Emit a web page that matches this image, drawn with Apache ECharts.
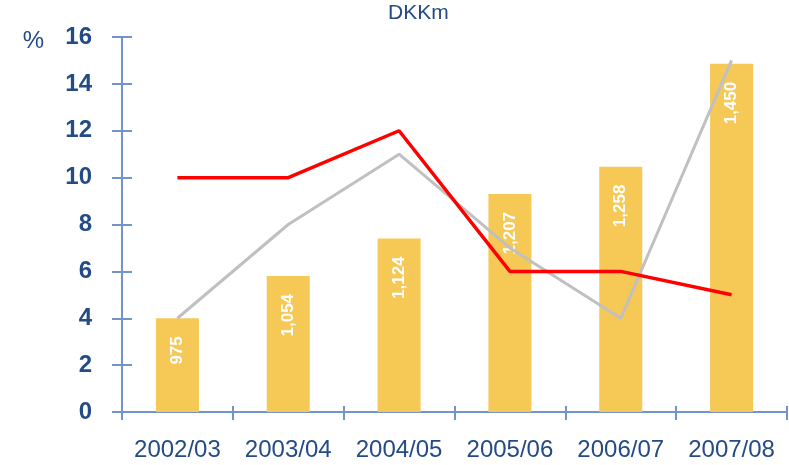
<!DOCTYPE html>
<html>
<head>
<meta charset="utf-8">
<style>
html, body { margin: 0; padding: 0; background: #fff; }
#main { width: 789px; height: 465px; }
</style>
<script src="https://cdn.jsdelivr.net/npm/echarts@6/dist/echarts.min.js"></script>
</head>
<body>
<div id="main"></div>
<script>
var chart = echarts.init(document.getElementById('main'));

var years = ['2002/03', '2003/04', '2004/05', '2005/06', '2006/07', '2007/08'];
var revenue = [975, 1054, 1124, 1207, 1258, 1450];   // DKKm, bars
var greyPct = [4, 8, 11, 7, 4, 15];                    // %, grey line
var redPct = [10, 10, 12, 6, 6, 5];                    // %, red line

var axisColor = '#7393CB';
var textColor = '#234B85';
var font = 'Arial, "Liberation Sans", sans-serif';

option = {
    animation: false,
    title: {
        text: 'DKKm',
        left: 383,
        top: 0,
        padding: [3, 5],
        textStyle: { color: textColor, fontFamily: font, fontSize: 21, fontWeight: 'normal' }
    },
    grid: { left: 122, right: 2, top: 37, bottom: 53, containLabel: false },
    xAxis: [{
        type: 'category',
        data: years,
        axisLine: { lineStyle: { color: axisColor, width: 2 } },
        axisTick: { show: true, length: 8, lineStyle: { color: axisColor, width: 2 } },
        axisLabel: { color: textColor, fontFamily: font, fontSize: 24, margin: 26, interval: 0 }
    }, {
        type: 'category',
        data: years,
        position: 'bottom',
        axisLine: { show: false },
        axisTick: { show: true, inside: true, length: 6, lineStyle: { color: axisColor, width: 2 } },
        axisLabel: { show: false }
    }],
    yAxis: [{
        type: 'value',
        min: 0,
        max: 16,
        interval: 2,
        name: '%',
        nameLocation: 'end',
        nameGap: -4,
        nameTextStyle: {
            color: textColor, fontFamily: font, fontSize: 24,
            align: 'right', verticalAlign: 'middle', padding: [0, 78, 0, 0]
        },
        axisLine: { show: true, lineStyle: { color: axisColor, width: 2 } },
        axisTick: { show: true, length: 10, lineStyle: { color: axisColor, width: 2 } },
        axisLabel: { color: textColor, fontFamily: font, fontSize: 24, fontWeight: 'bold', margin: 30 },
        splitLine: { show: false }
    }, {
        type: 'value',
        min: 800,
        max: 1500,
        show: false
    }, {
        type: 'value',
        min: 0,
        max: 16,
        interval: 2,
        position: 'left',
        axisLine: { show: false },
        axisTick: { show: true, inside: true, length: 10, lineStyle: { color: axisColor, width: 2 } },
        axisLabel: { show: false },
        splitLine: { show: false }
    }],
    series: [{
        type: 'bar',
        yAxisIndex: 1,
        data: revenue,
        barWidth: 43,
        itemStyle: { color: '#F6C855' },
        label: {
            show: true,
            position: 'insideTop',
            distance: 18,
            rotate: 90,
            align: 'right',
            verticalAlign: 'middle',
            color: '#fff',
            fontFamily: font,
            fontSize: 17,
            fontWeight: 'bold',
            formatter: function (p) {
                return p.value.toLocaleString('en-US');
            }
        }
    }, {
        type: 'line',
        data: greyPct,
        symbol: 'none',
        lineStyle: { color: '#C0C0C0', width: 3 },
        z: 3
    }, {
        type: 'line',
        data: redPct,
        symbol: 'none',
        lineStyle: { color: '#FF0000', width: 3.5 },
        z: 4
    }]
};
chart.setOption(option);
</script>
</body>
</html>
